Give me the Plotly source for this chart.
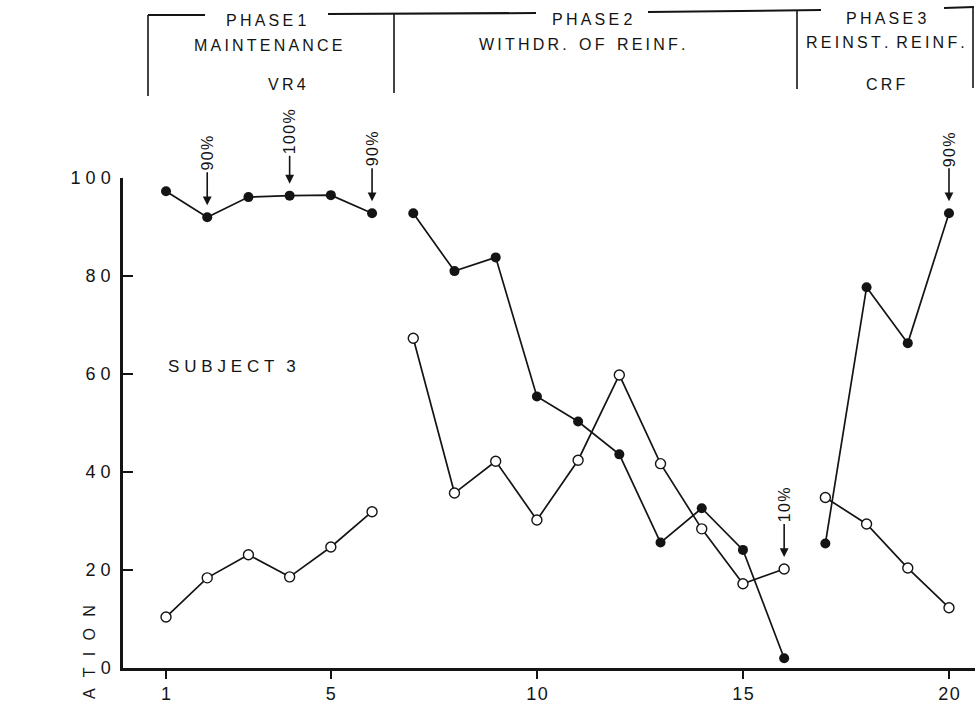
import plotly.graph_objects as go

# Sessions and the two measures per session
sessions = list(range(1, 21))
filled_vals = [97.3, 92.0, 96.1, 96.4, 96.5, 92.8,
               92.8, 81.0, 83.8, 55.4, 50.3, 43.6, 25.6, 32.6, 24.1, 2.0,
               25.4, 77.7, 66.3, 92.8]
open_vals = [10.4, 18.4, 23.1, 18.6, 24.7, 31.9,
             67.3, 35.7, 42.2, 30.2, 42.4, 59.8, 41.7, 28.4, 17.2, 20.2,
             34.8, 29.4, 20.4, 12.3]

# Phase boundaries (first, last session of each phase)
phases = [(1, 6), (7, 16), (17, 20)]

# Percentage notes placed above selected sessions
notes = [(2, "90%"), (4, "100%"), (6, "90%"), (16, "10%"), (20, "90%")]

x_ticks = [1, 5, 10, 15, 20]
y_ticks = [0, 20, 40, 60, 80, 100]

FONT = "Liberation Sans, Arial, Helvetica, sans-serif"
INK = "#141414"
THIN = "\u2009"
HAIR = "\u200a"
EN = "\u2002"


def spaced(s, gap=THIN):
    return gap.join(s)


# plot-area pixel frame
L, R, T, B = 123, 975, 178, 668
W, H = 976, 707


def px(xp):
    return (xp - L) / (R - L)


def py(yp):
    return (B - yp) / (B - T)


fig = go.Figure()

for first, last in phases:
    idx = [i for i, s in enumerate(sessions) if first <= s <= last]
    xs = [sessions[i] for i in idx]
    fig.add_trace(go.Scatter(
        x=xs, y=[open_vals[i] for i in idx], mode="lines+markers",
        line=dict(color=INK, width=1.7),
        marker=dict(size=10, color="white", line=dict(color=INK, width=1.4)),
        showlegend=False, cliponaxis=False, hoverinfo="skip"))
    fig.add_trace(go.Scatter(
        x=xs, y=[filled_vals[i] for i in idx], mode="lines+markers",
        line=dict(color=INK, width=1.7),
        marker=dict(size=10, color=INK, line=dict(width=0)),
        showlegend=False, cliponaxis=False, hoverinfo="skip"))

annotations = []

# arrows with rotated percentages
for s, label in notes:
    i = sessions.index(s)
    yv = open_vals[i] if s == 16 else filled_vals[i]
    annotations.append(dict(
        x=s, y=yv, xref="x", yref="y", text=spaced(label, HAIR),
        textangle=-90, showarrow=True, arrowhead=2, arrowsize=1.1,
        arrowwidth=1.6, arrowcolor=INK, ax=0, ay=-64,
        standoff=12, font=dict(family=FONT, size=16, color=INK)))

annotations.append(dict(
    x=px(166), y=py(366), xref="paper", yref="paper", xanchor="left",
    yanchor="middle", showarrow=False,
    text=spaced("SUBJECT", THIN + HAIR) + EN + THIN + "3",
    font=dict(family=FONT, size=17, color=INK)))

annotations.append(dict(
    x=px(89), y=py(652), xref="paper", yref="paper", showarrow=False,
    xanchor="center", yanchor="middle", textangle=-90,
    text=(EN + THIN).join("ATION"),
    font=dict(family=FONT, size=16, color=INK)))

# header block: phase names and schedules
header = [
    (266, 21, spaced("PHASE") + " 1"),
    (268, 45, spaced("MAINTENANCE")),
    (287, 85, spaced("VR4")),
    (592, 20, spaced("PHASE") + " 2"),
    (582, 44, spaced("WITHDR.") + EN + " " + spaced("OF") + EN + " " + spaced("REINF.")),
    (886, 18, spaced("PHASE") + " 3"),
    (885, 42, spaced("REINST.") + EN + spaced("REINF.")),
    (886, 85, spaced("CRF")),
]
for xp, yp, txt in header:
    annotations.append(dict(
        x=px(xp), y=py(yp), xref="paper", yref="paper", showarrow=False,
        xanchor="center", yanchor="middle", text=txt,
        font=dict(family=FONT, size=16, color=INK)))


def seg(x0, y0, x1, y1, w):
    return dict(type="line", xref="paper", yref="paper", x0=px(x0), y0=py(y0),
                x1=px(x1), y1=py(y1), line=dict(color=INK, width=w))


shapes = [
    # top rule, broken around the phase names
    seg(148, 15, 205, 15, 2), seg(328, 14, 536, 13, 2),
    seg(648, 12, 821, 10, 2), seg(944, 8, 974, 7, 2),
    # phase dividers
    seg(148, 15, 148, 96, 1.6), seg(394, 13, 394, 93, 1.6),
    seg(797, 11, 797, 89, 1.6), seg(973, 7, 973, 88, 1.6),
]

x_unit = 41.2
fig.update_layout(
    width=W, height=H,
    margin=dict(l=L, r=W - R, t=T, b=H - B, pad=0),
    paper_bgcolor="white", plot_bgcolor="white",
    font=dict(family=FONT, size=16, color=INK),
    annotations=annotations, shapes=shapes,
    xaxis=dict(range=[1 - (166 - L) / x_unit, 20 + (R - 949) / x_unit],
               tickvals=x_ticks, ticktext=[spaced(str(v), HAIR) for v in x_ticks],
               ticks="outside", ticklen=8, tickwidth=2, tickcolor=INK,
               showline=True, linecolor=INK, linewidth=2.5,
               showgrid=False, zeroline=False,
               tickfont=dict(family=FONT, size=18, color=INK)),
    yaxis=dict(range=[0, 100], tickvals=y_ticks,
               ticktext=[spaced(str(v), THIN + HAIR) for v in y_ticks],
               ticks="inside", ticklen=10, tickwidth=2, tickcolor=INK,
               showline=True, linecolor=INK, linewidth=2.5,
               showgrid=False, zeroline=False, ticklabelstandoff=6,
               tickfont=dict(family=FONT, size=18, color=INK)),
)

fig.write_html("out.html")
